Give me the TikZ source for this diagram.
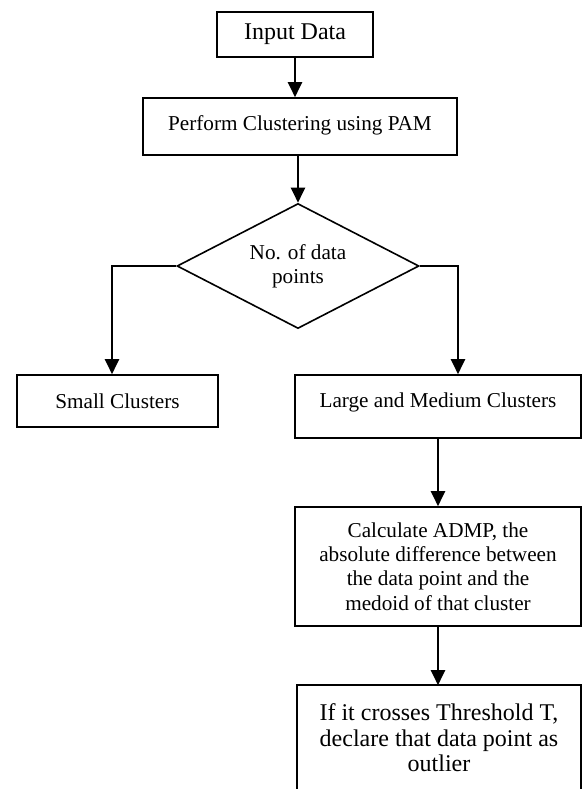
\documentclass[tikz,border=0pt]{standalone}
\usepackage{fontspec}
\setmainfont{Liberation Serif}
\usetikzlibrary{shapes.geometric,arrows.meta,positioning,calc}

\begin{document}
\begin{tikzpicture}
[x=0.5pt,y=-0.5pt,>={Triangle[length=7.5pt,width=7pt]},
box/.style={draw,line width=0.8pt,rectangle,inner sep=0pt,align=center,font=\fontsize{10.6}{12.2}\selectfont},
bigbox/.style={box,font=\fontsize{12}{12.8}\selectfont},
decision/.style={draw,line width=0.8pt,diamond,aspect=2,inner sep=0pt,align=center,minimum width=121pt,minimum height=62.5pt,font=\fontsize{10.6}{12}\selectfont},
flow/.style={->,line width=1pt},]
\useasboundingbox (0,0) rectangle (582,789);

%Top of the chart
\node (inp) at (295,34.5)[bigbox,minimum width=78pt,minimum height=22.5pt] {Input Data};
\node (pam) at (300,126.5)[box,minimum width=157pt,text height=16.2pt,text depth=12.3pt] {Perform Clustering using PAM};

%Decision
\node (dec) at (298,266)[decision] {No. of data\\points};

%Two kinds of clusters
\node (small) at (117.5,401)[box,minimum width=100.5pt,minimum height=26pt] {Small Clusters};
\node (large) at (438,406.5)[box,minimum width=143pt,text height=16pt,text depth=15.5pt] {Large and Medium Clusters};

%Steps for large clusters
\node (calc) at (438,566.5)[box,minimum width=143pt,minimum height=59.5pt] {Calculate ADMP, the\\absolute difference between\\the data point and the\\medoid of that cluster};
\node (outl) at (439,738)[bigbox,draw=none,minimum width=141pt,minimum height=52pt] {If it crosses Threshold T,\\declare that data point as\\outlier};
%last box runs off the page
\draw[line width=0.8pt] (outl.north west) rectangle ($(outl.north east)+(0,130)$);

%Drawing the arrows
\draw[flow] (inp.south) -- (inp.south |- pam.north);
\draw[flow] (pam.south -| dec.north) -- (dec.north);
\draw[flow] (dec.west) -| ([xshift=-2.75pt]small.north);
\draw[flow] (dec.east) -| ([xshift=10pt]large.north);
\draw[flow] (large.south) -- (calc.north);
\draw[flow] (calc.south) -- (calc.south |- outl.north);
\end{tikzpicture}
\end{document}
